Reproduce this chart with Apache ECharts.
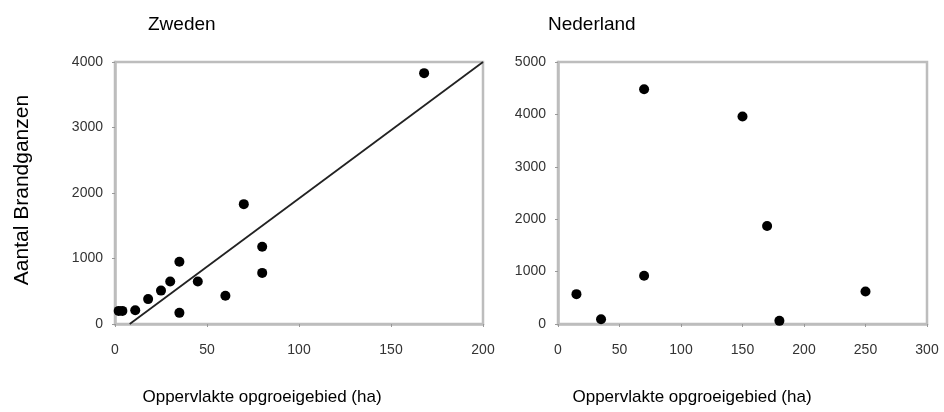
<!DOCTYPE html>
<html>
<head>
<meta charset="utf-8">
<script src="https://cdn.jsdelivr.net/npm/echarts@6/dist/echarts.min.js"></script>
<style>
  html, body { margin: 0; padding: 0; background: #fff; }
  #chart { width: 944px; height: 412px; }
</style>
</head>
<body>
<div id="chart"></div>
<script>
// Zweden: area of rearing ground (ha) vs number of barnacle geese
const zwedenArea  = [2, 4, 11, 18, 25, 30, 35, 35, 45, 60, 70, 80, 80, 168];
const zwedenGeese = [200, 200, 210, 380, 510, 650, 950, 170, 650, 430, 1830, 1180, 780, 3830];
// fitted trend line for Zweden (start and end points)
const trendArea  = [8, 200];
const trendGeese = [0, 4000];

// Nederland
const nlArea  = [15, 35, 70, 70, 150, 170, 180, 250];
const nlGeese = [570, 90, 4480, 920, 3960, 1870, 60, 620];

const panelTitles = ['Zweden', 'Nederland'];
const xName = 'Oppervlakte opgroeigebied (ha)';
const yName = 'Aantal Brandganzen';

const FONT = '"Liberation Sans", Arial, sans-serif';
const frame = '#bdbdbd';

function pairs(xs, ys) { return xs.map((x, i) => [x, ys[i]]); }

function xAxisCfg(idx, max) {
  return {
    type: 'value', gridIndex: idx, min: 0, max: max, interval: 50,
    axisLine: { show: true, onZero: false, lineStyle: { color: frame, width: 2.5 } },
    axisTick: { show: true, length: 3, lineStyle: { color: '#999' } },
    axisLabel: { margin: 19, color: '#333', fontSize: 14, fontFamily: FONT, formatter: v => String(v) },
    splitLine: { show: false }
  };
}
function yAxisCfg(idx, max) {
  return {
    type: 'value', gridIndex: idx, min: 0, max: max, interval: 1000,
    axisLine: { show: true, onZero: false, lineStyle: { color: frame, width: 2.5 } },
    axisTick: { show: true, length: 3, lineStyle: { color: '#999' } },
    axisLabel: { margin: 12, color: '#333', fontSize: 14, fontFamily: FONT, formatter: v => String(v) },
    splitLine: { show: false }
  };
}

const chart = echarts.init(document.getElementById('chart'), null, { renderer: 'canvas' });
chart.setOption({
  backgroundColor: '#fff',
  animation: false,
  grid: [
    { left: 115, top: 62, width: 368, height: 262, show: true, borderColor: frame, borderWidth: 2.5, backgroundColor: 'transparent' },
    { left: 558, top: 62, width: 369, height: 262, show: true, borderColor: frame, borderWidth: 2.5, backgroundColor: 'transparent' }
  ],
  xAxis: [xAxisCfg(0, 200), xAxisCfg(1, 300)],
  yAxis: [yAxisCfg(0, 4000), yAxisCfg(1, 5000)],
  series: [
    {
      type: 'line', xAxisIndex: 0, yAxisIndex: 0,
      data: pairs(trendArea, trendGeese),
      symbol: 'none', lineStyle: { color: '#222', width: 1.8 }, z: 2
    },
    {
      type: 'scatter', xAxisIndex: 0, yAxisIndex: 0,
      data: pairs(zwedenArea, zwedenGeese),
      symbolSize: 10, itemStyle: { color: '#000', opacity: 1 }, z: 3
    },
    {
      type: 'scatter', xAxisIndex: 1, yAxisIndex: 1,
      data: pairs(nlArea, nlGeese),
      symbolSize: 10, itemStyle: { color: '#000', opacity: 1 }, z: 3
    }
  ],
  graphic: [
    { type: 'text', left: 148, top: 15, style: { text: panelTitles[0], font: '19px ' + FONT, fill: '#000' } },
    { type: 'text', left: 548, top: 15, style: { text: panelTitles[1], font: '19px ' + FONT, fill: '#000' } },
    { type: 'text', x: 262, y: 397, style: { text: xName, font: '17px ' + FONT, fill: '#000', align: 'center', verticalAlign: 'middle' } },
    { type: 'text', x: 692, y: 397, style: { text: xName, font: '17px ' + FONT, fill: '#000', align: 'center', verticalAlign: 'middle' } },
    { type: 'text', x: 22, y: 190, rotation: Math.PI / 2, style: { text: yName, font: '21px ' + FONT, fill: '#000', align: 'center', verticalAlign: 'middle' } }
  ]
});
</script>
</body>
</html>
